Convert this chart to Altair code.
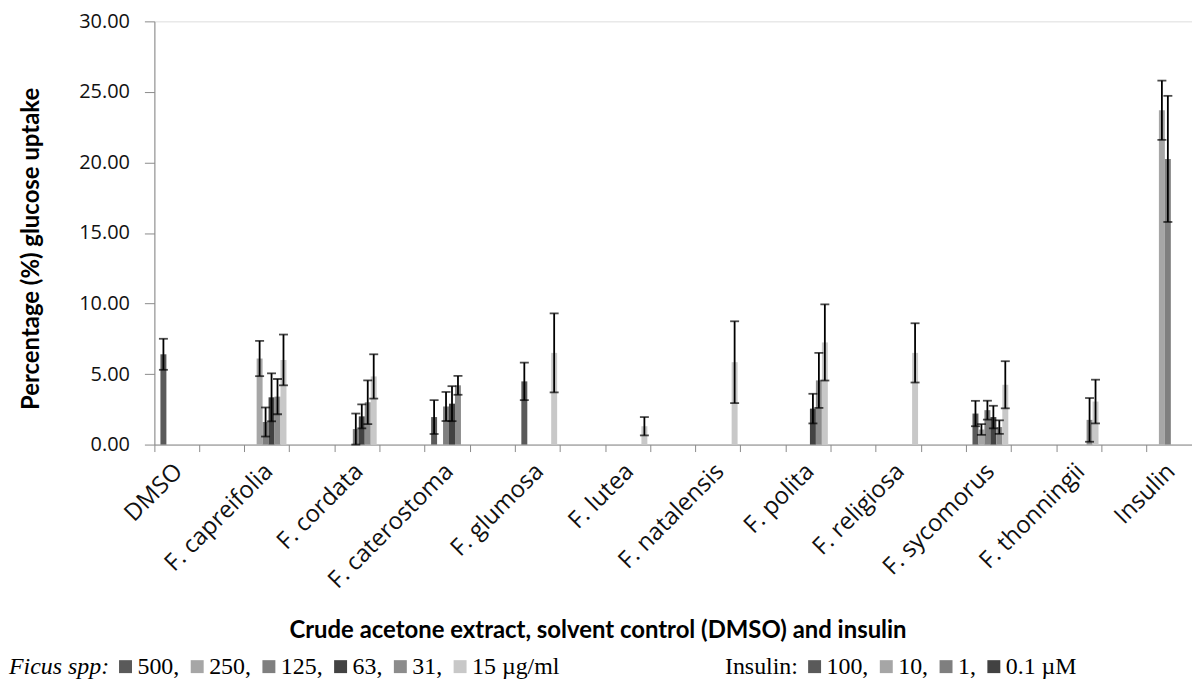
import altair as alt
import pandas as pd

categories = ["DMSO", "F. capreifolia", "F. cordata", "F. caterostoma", "F. glumosa",
              "F. lutea", "F. natalensis", "F. polita", "F. religiosa", "F. sycomorus",
              "F. thonningii", "Insulin"]

series_labels = ["500,", "250,", "125,", "63,", "31,", "15 µg/ml"]
insulin_labels = ["100,", "10,", "1,", "0.1 µM"]
colors = ["#5a5a5a", "#a6a6a6", "#7f7f7f", "#424242", "#8c8c8c", "#c8c8c8"]

N = None
mean_500 = [6.4, N, N, 1.95, 4.48, N, N, N, N, 2.2, N, N]
sd_500 = [1.1, N, N, 1.2, 1.33, N, N, N, N, 0.9, N, N]
mean_250 = [N, 6.1, N, N, N, N, N, N, N, 1.07, N, 23.7]
sd_250 = [N, 1.25, N, N, N, N, N, N, N, 0.38, N, 2.1]
mean_125 = [N, 1.6, 1.1, 2.7, N, N, N, N, N, 2.44, N, 20.25]
sd_125 = [N, 1.03, 1.1, 1.03, N, N, N, N, N, 0.67, N, 4.47]
mean_63 = [N, 3.35, 2.0, 2.9, N, N, N, 2.55, N, 1.95, N, N]
sd_63 = [N, 1.7, 0.85, 1.24, N, N, N, 1.05, N, 0.8, N, N]
mean_31 = [N, 3.4, 3.0, 4.2, N, N, N, 4.55, N, 1.24, 1.75, N]
sd_31 = [N, 1.25, 1.55, 0.67, N, N, N, 1.95, N, 0.48, 1.55, N]
mean_15 = [N, 6.0, 4.83, N, 6.5, 1.3, 5.84, 7.24, 6.5, 4.24, 3.05, N]
sd_15 = [N, 1.8, 1.57, N, 2.8, 0.65, 2.9, 2.7, 2.1, 1.67, 1.55, N]

means = [mean_500, mean_250, mean_125, mean_63, mean_31, mean_15]
sds = [sd_500, sd_250, sd_125, sd_63, sd_31, sd_15]

# category axis with blank slots between labelled categories
x_domain = []
for i, c in enumerate(categories):
    x_domain.append(c)
    if i < len(categories) - 1:
        x_domain.append("gap%d" % i)

rows = []
for k, lab in enumerate(series_labels):
    for i, c in enumerate(categories):
        m = means[k][i]
        if m is not None:
            s = sds[k][i]
            rows.append({"cat": c, "series": lab, "mean": m, "lo": m - s, "hi": m + s})
df = pd.DataFrame(rows)

ins_df = pd.DataFrame({"ins": insulin_labels, "v": [0] * len(insulin_labels)})

W, H = 1042, 425

xscale = alt.Scale(domain=x_domain, paddingInner=0, paddingOuter=0)
xoff = alt.XOffset("series:N", scale=alt.Scale(domain=series_labels, paddingInner=0,
                                                 paddingOuter=0.78, align=0.65))
yscale = alt.Scale(domain=[0, 30])

x_axis = alt.Axis(bandPosition=0, labelOffset=2, labelAngle=-45, labelAlign="right",
                  labelBaseline="middle", labelFont="Open Sans", labelFontSize=24,
                  labelColor="#111111", labelPadding=16, tickSize=7,
                  labelExpr="indexof(datum.value, 'gap') == 0 ? '' : datum.value",
                  domainColor="#8a8a8a", tickColor="#8a8a8a", labelOverlap=False,
                  title="Crude acetone extract, solvent control (DMSO) and insulin",
                  titleFont="Lato", titleFontSize=24, titleFontWeight="bold", titleColor="#000000",
                  titleX=445, titleY=187, titleBaseline="middle", titleAlign="center")
y_axis = alt.Axis(values=[0, 5, 10, 15, 20, 25, 30], format=".2f", grid=False,
                  domainColor="#8a8a8a", tickColor="#8a8a8a", tickSize=10,
                  labelFont="Open Sans", labelFontSize=20, labelColor="#111111", labelPadding=15,
                  title="Percentage (%) glucose uptake", titleFont="Lato", titleFontSize=24,
                  titleFontWeight="bold", titleColor="#000000", titleX=-123, titleY=228,
                  titleBaseline="middle", titleAlign="center", titleAngle=270)

legend_common = dict(orient="none", direction="horizontal", titleOrient="left",
                     symbolType="square", symbolSize=169, symbolStrokeWidth=0,
                     labelFont="Liberation Serif", labelFontSize=24, labelColor="#000000",
                     titleFont="Liberation Serif", titleFontSize=24, titleColor="#000000",
                     titleFontWeight="normal", labelOffset=0, columnPadding=6, titlePadding=4)

bars = alt.Chart(df).mark_bar().encode(
    x=alt.X("cat:N", scale=xscale, sort=x_domain, axis=x_axis),
    xOffset=xoff,
    y=alt.Y("mean:Q", scale=yscale, axis=y_axis),
    color=alt.Color("series:N", scale=alt.Scale(domain=series_labels, range=colors),
                    legend=alt.Legend(title="Ficus spp:", titleFontStyle="italic",
                                      legendX=-146, legendY=636, columns=6, **legend_common)),
)

rules = alt.Chart(df).mark_rule(color="black", strokeWidth=1.8).encode(
    x=alt.X("cat:N", scale=xscale, sort=x_domain),
    xOffset=xoff,
    y=alt.Y("lo:Q", scale=yscale),
    y2="hi:Q",
)
cap_hi = alt.Chart(df).mark_tick(color="black", thickness=1.8, size=9, orient="horizontal").encode(
    x=alt.X("cat:N", scale=xscale, sort=x_domain),
    xOffset=xoff,
    y=alt.Y("hi:Q", scale=yscale),
)
cap_lo = alt.Chart(df).mark_tick(color="black", thickness=1.8, size=9, orient="horizontal").encode(
    x=alt.X("cat:N", scale=xscale, sort=x_domain),
    xOffset=xoff,
    y=alt.Y("lo:Q", scale=yscale),
)

ins_legend = alt.Chart(ins_df).mark_square(size=0, opacity=1).encode(
    y=alt.Y("v:Q", scale=yscale),
    fill=alt.Fill("ins:N", scale=alt.Scale(domain=insulin_labels, range=colors[:4]),
                  legend=alt.Legend(title="Insulin:", legendX=573, legendY=636, columns=4,
                                    **legend_common)),
)

chart = alt.layer(bars, rules, cap_hi, cap_lo, ins_legend).properties(
    width=W, height=H,
    autosize=alt.AutoSizeParams(type="none"),
    padding={"left": 147, "top": 12, "right": 0, "bottom": 236},
).configure_view(stroke=None).configure(background="white")

chart.save("out.html", embed_options={"renderer": "svg", "actions": False})
